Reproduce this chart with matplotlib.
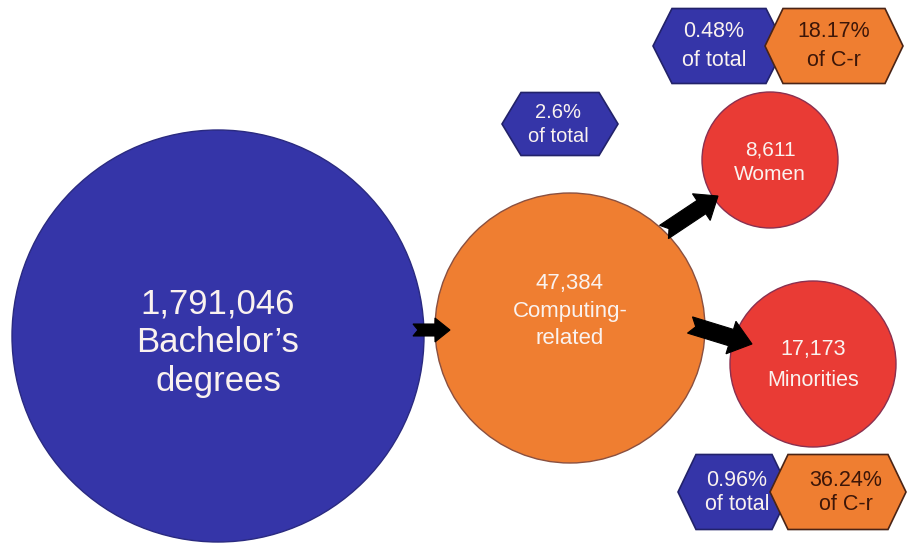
import matplotlib.pyplot as plt
from matplotlib.patches import Circle, Polygon
import numpy as np

plt.rcParams['font.family'] = ['Liberation Sans', 'DejaVu Sans']

# degree counts, from all bachelor's down to the two computing subgroups
counts = [1791046, 47384, 8611, 17173]
names = ['Bachelor\u2019s\ndegrees', 'Computing-\nrelated', 'Women', 'Minorities']
pct_of_total = [2.6, 0.48, 0.96]   # computing, women, minorities
pct_of_cr = [18.17, 36.24]         # women, minorities

BLUE = '#3535a8'
ORANGE = '#ef7e31'
RED = '#e93b35'
WHITE = '#faf2ef'
DARK = '#3c1608'

fig = plt.figure(figsize=(9.08, 5.48), dpi=100)
ax = fig.add_axes([0, 0, 1, 1])
ax.set_xlim(0, 908)
ax.set_ylim(548, 0)
ax.axis('off')


def lines_at(x, y, text, size, gap, color):
    rows = text.split('\n')
    top = y - gap * (len(rows) - 1) / 2
    for i, row in enumerate(rows):
        ax.text(x, top + i * gap, row, ha='center', va='center',
                fontsize=size, color=color, zorder=6)


def bubble(x, y, r, color, edge, text, size, gap, ty):
    ax.add_patch(Circle((x, y), r, facecolor=color, edgecolor=edge,
                        lw=1.0, zorder=2))
    lines_at(x, ty, text, size, gap, WHITE)


def hexagon(cx, cy, w, h, inset, color, edge, text, tcolor,
            size=15.5, gap=27, z=3, tx=None):
    pts = [(cx - w / 2, cy), (cx - w / 2 + inset, cy - h / 2),
           (cx + w / 2 - inset, cy - h / 2), (cx + w / 2, cy),
           (cx + w / 2 - inset, cy + h / 2), (cx - w / 2 + inset, cy + h / 2)]
    ax.add_patch(Polygon(pts, closed=True, facecolor=color, edgecolor=edge,
                         lw=1.2, zorder=z))
    lines_at(cx if tx is None else tx, cy, text, size, gap, tcolor)


def arrow(x0, y0, x1, y1, shaft, head, head_len, notch):
    d = np.array([x1 - x0, y1 - y0], float)
    L = np.hypot(*d)
    u = d / L
    n = np.array([-u[1], u[0]])
    p0 = np.array([x0, y0], float)
    hb = p0 + u * (L - head_len)
    pts = [p0 + n * shaft / 2, hb + n * shaft / 2, hb + n * head / 2,
           p0 + u * L, hb - n * head / 2, hb - n * shaft / 2,
           p0 - n * shaft / 2, p0 + u * notch]
    ax.add_patch(Polygon(pts, closed=True, facecolor='black',
                         edgecolor='black', lw=0.8, zorder=5))


bubble(218, 336, 206, BLUE, '#2a2a80', f'{counts[0]:,}\n{names[0]}', 25, 39, 343)
bubble(570, 328, 135, ORANGE, '#8a5040', f'{counts[1]:,}\n{names[1]}', 16, 27, 311)
bubble(770, 160, 68, RED, '#8a3050', f'{counts[2]:,}\n{names[2]}', 15, 25, 162)
bubble(813, 364, 83, RED, '#8a3050', f'{counts[3]:,}\n{names[3]}', 15.5, 30, 365)

arrow(413, 330, 450, 330, 12, 24, 15, 5)
arrow(664, 232, 718, 196, 16, 32, 20, 6)
arrow(690, 325, 752, 344, 17, 34, 22, 6)

hexagon(560, 124, 116, 63, 19, BLUE, '#22226a',
        f'{pct_of_total[0]}%\nof total', WHITE, size=14.5, gap=24, tx=558)
hexagon(719, 46, 132, 75, 19, BLUE, '#22226a',
        f'{pct_of_total[1]}%\nof total', WHITE, gap=29, tx=714)
hexagon(834, 46, 138, 75, 18, ORANGE, '#4a2416',
        f'{pct_of_cr[0]}%\nof C-r', DARK, gap=29, z=4)
hexagon(734, 492, 112, 75, 18, BLUE, '#22226a',
        f'{pct_of_total[2]}%\nof total', WHITE, gap=24, tx=737)
hexagon(838, 492, 136, 75, 18, ORANGE, '#4a2416',
        f'{pct_of_cr[1]}%\nof C-r', DARK, gap=24, z=4, tx=846)

fig.savefig('out.png', dpi=100, facecolor='white')
